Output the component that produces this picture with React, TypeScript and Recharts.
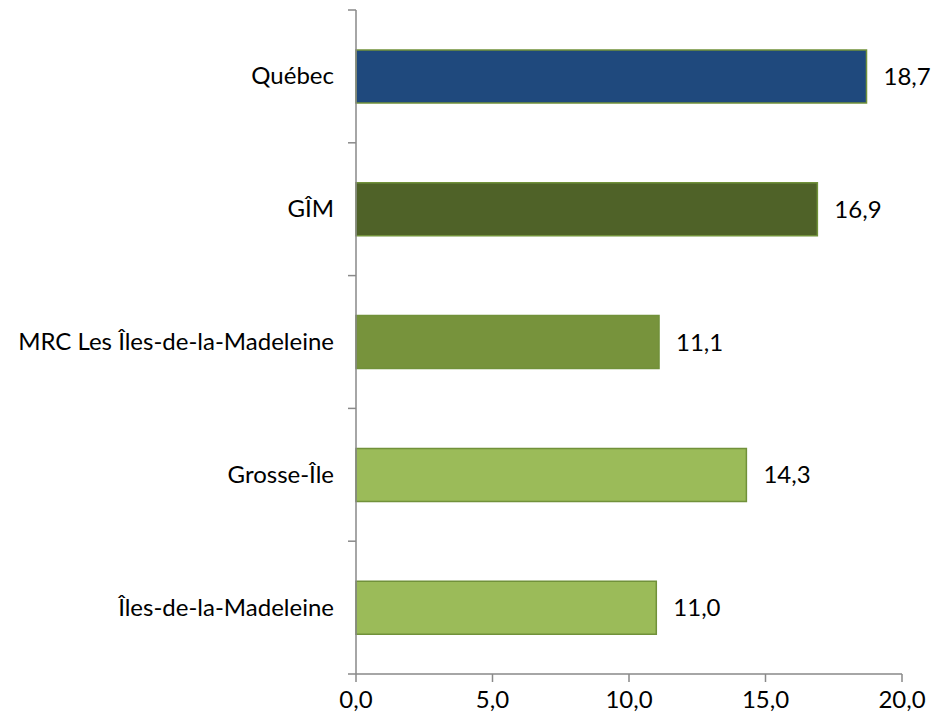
import { BarChart, Bar, XAxis, YAxis, Cell, LabelList } from "recharts";

const territoires = [
  "Québec",
  "GÎM",
  "MRC Les Îles-de-la-Madeleine",
  "Grosse-Île",
  "Îles-de-la-Madeleine",
];
const valeurs = [18.7, 16.9, 11.1, 14.3, 11.0];
const xTicks = [0, 5, 10, 15, 20];

const fills = ["#1F497D", "#4F6228", "#77933C", "#9BBB59", "#9BBB59"];
const axisColor = "#898989";
const font = "Lato, 'Open Sans', sans-serif";
const fontSize = 24;

const data = territoires.map((nom, i) => ({ nom, valeur: valeurs[i] }));

const fmt = (v: number) => v.toFixed(1).replace(".", ",");

function CategoryTick(props: any) {
  const { x, y, payload, index } = props;
  const off = payload.offset ?? 0;
  const axisX = x + 22;
  return (
    <g>
      <line x1={axisX - 8} x2={axisX} y1={y - off} y2={y - off} stroke={axisColor} strokeWidth={1.5} />
      {index === territoires.length - 1 && (
        <line x1={axisX - 8} x2={axisX} y1={y + off} y2={y + off} stroke={axisColor} strokeWidth={1.5} />
      )}
      <text x={x} y={y} dy={8} textAnchor="end" fill="#000" fontSize={fontSize} fontFamily={font}>
        {payload.value}
      </text>
    </g>
  );
}

export default function App() {
  return (
    <div style={{ position: "absolute", left: 0, top: 0, background: "#fff" }}>
      <BarChart
        width={931}
        height={723}
        data={data}
        layout="vertical"
        margin={{ top: 10, right: 29, left: 0, bottom: 0 }}
      >
        <XAxis
          type="number"
          domain={[0, 20]}
          ticks={xTicks}
          tickFormatter={fmt}
          height={49}
          stroke={axisColor}
          strokeWidth={1.5}
          tickSize={8}
          tickMargin={9}
          tick={{ fill: "#000", fontSize, fontFamily: font }}
        />
        <YAxis
          type="category"
          dataKey="nom"
          width={356}
          stroke={axisColor}
          strokeWidth={1.5}
          tickLine={false}
          tickSize={0}
          tickMargin={22}
          tick={<CategoryTick />}
        />
        <Bar dataKey="valeur" barSize={53} stroke="#71913A" strokeWidth={1.5} isAnimationActive={false}>
          {data.map((_, i) => (
            <Cell key={`cell-${i}`} fill={fills[i]} />
          ))}
          <LabelList
            dataKey="valeur"
            position="right"
            offset={17}
            formatter={(v: any) => fmt(Number(v))}
            style={{ fill: "#000", fontSize, fontFamily: font }}
          />
        </Bar>
      </BarChart>
    </div>
  );
}
